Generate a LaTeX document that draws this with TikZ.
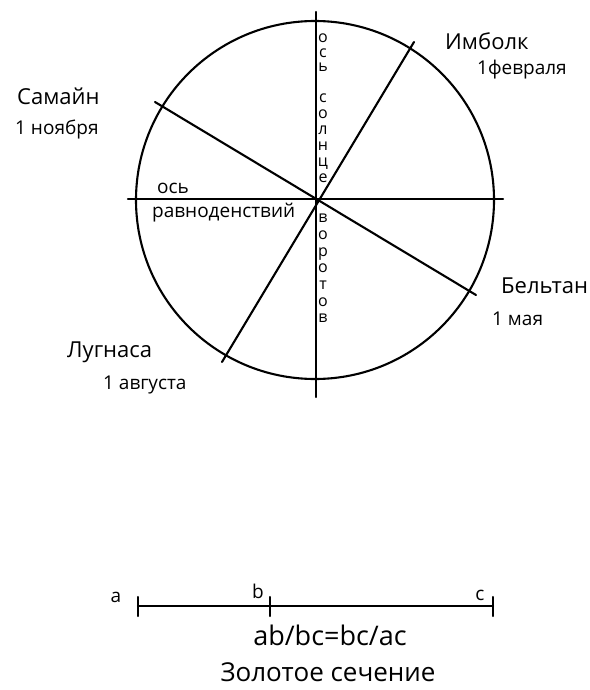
\documentclass[tikz,border=0pt]{standalone}
\usepackage{fontspec}
\setmainfont{Open Sans}
\usepackage{tikz}
\usetikzlibrary{calc}
\tikzset{
  liniya/.style={line width=2.1pt, color=black, line cap=round},
  koleso/.style={circle, draw, line width=2.1pt, minimum size=358pt, inner sep=0pt},
  prazdnik/.style={font=\fontsize{22}{26}\selectfont, inner sep=0pt, anchor=base west},
  data/.style={font=\fontsize{19}{22}\selectfont, inner sep=0pt, anchor=base west},
  stolbik/.style={font=\fontsize{16}{16}\selectfont, align=center, inner sep=0pt},
  podpis/.style={font=\fontsize{27}{30}\selectfont, inner sep=0pt, anchor=base}
}

\begin{document}
\begin{tikzpicture}[x=1pt, y=-1pt]
  \useasboundingbox (0,0) rectangle (589,690);
  \node (koleso) [koleso] at (315,200) {};
  \coordinate (solnVerh) at (316,12);
  \coordinate (solnNiz) at (316,397);
  \coordinate (ravnLev) at (128,199);
  \coordinate (ravnPrav) at (503,199);
  \coordinate (samain) at (155,102);
  \coordinate (beltan) at (476,295);
  \coordinate (imbolk) at (414,42);
  \coordinate (lugnasa) at (222,362);
  \draw [liniya] (solnVerh) -- (solnNiz);
  \draw [liniya] (ravnLev) -- (ravnPrav);
  \draw [liniya] (samain) -- (beltan);
  \draw [liniya] (imbolk) -- (lugnasa);

  \node (samainT) [prazdnik] at (17,105) {Самайн};
  \node (samainD) [data] at (15,134) {1 ноября};
  \node (imbolkT) [prazdnik] at (445,50) {Имболк};
  \node (imbolkD) [data] at (477,75) {1февраля};
  \node (beltanT) [prazdnik] at (501,293) {Бельтан};
  \node (beltanD) [data] at (492,325) {1 мая};
  \node (lugnasaT) [prazdnik] at (67,357) {Лугнаса};
  \node (lugnasaD) [data] at (103,389) {1 августа};
  \node (osRavn) [data] at (157,193) {ось};
  \node (ravnod) [data] at (152,217) {равноденствий};

  \node (osSoln) [stolbik, font=\fontsize{16}{14.5}\selectfont] at (323,53) {о\\с\\ь};
  \node (soln) [stolbik] at (323,138.5) {с\\о\\л\\н\\ц\\е};
  \node (vorot) [stolbik, font=\fontsize{16}{16.7}\selectfont] at (323,268.5) {в\\о\\р\\о\\т\\о\\в};

  \coordinate (tA) at (138,606);
  \coordinate (tB) at (270,606);
  \coordinate (tC) at (493,606);
  \draw [liniya] (tA) -- (tC);
  \foreach \t in {tA,tB,tC}
    \draw [liniya] ($(\t)+(0,-9)$) -- ($(\t)+(0,10)$);
  \node (bukA) [data, anchor=base] at (116,602) {a};
  \node (bukB) [data, anchor=base] at (258,598) {b};
  \node (bukC) [data, anchor=base] at (480,600) {c};
  \node (formula) [podpis] at (330,645) {ab/bc=bc/ac};
  \node (zolotoe) [podpis, font=\fontsize{26}{30}\selectfont] at (328,681) {Золотое сечение};
\end{tikzpicture}
\end{document}
